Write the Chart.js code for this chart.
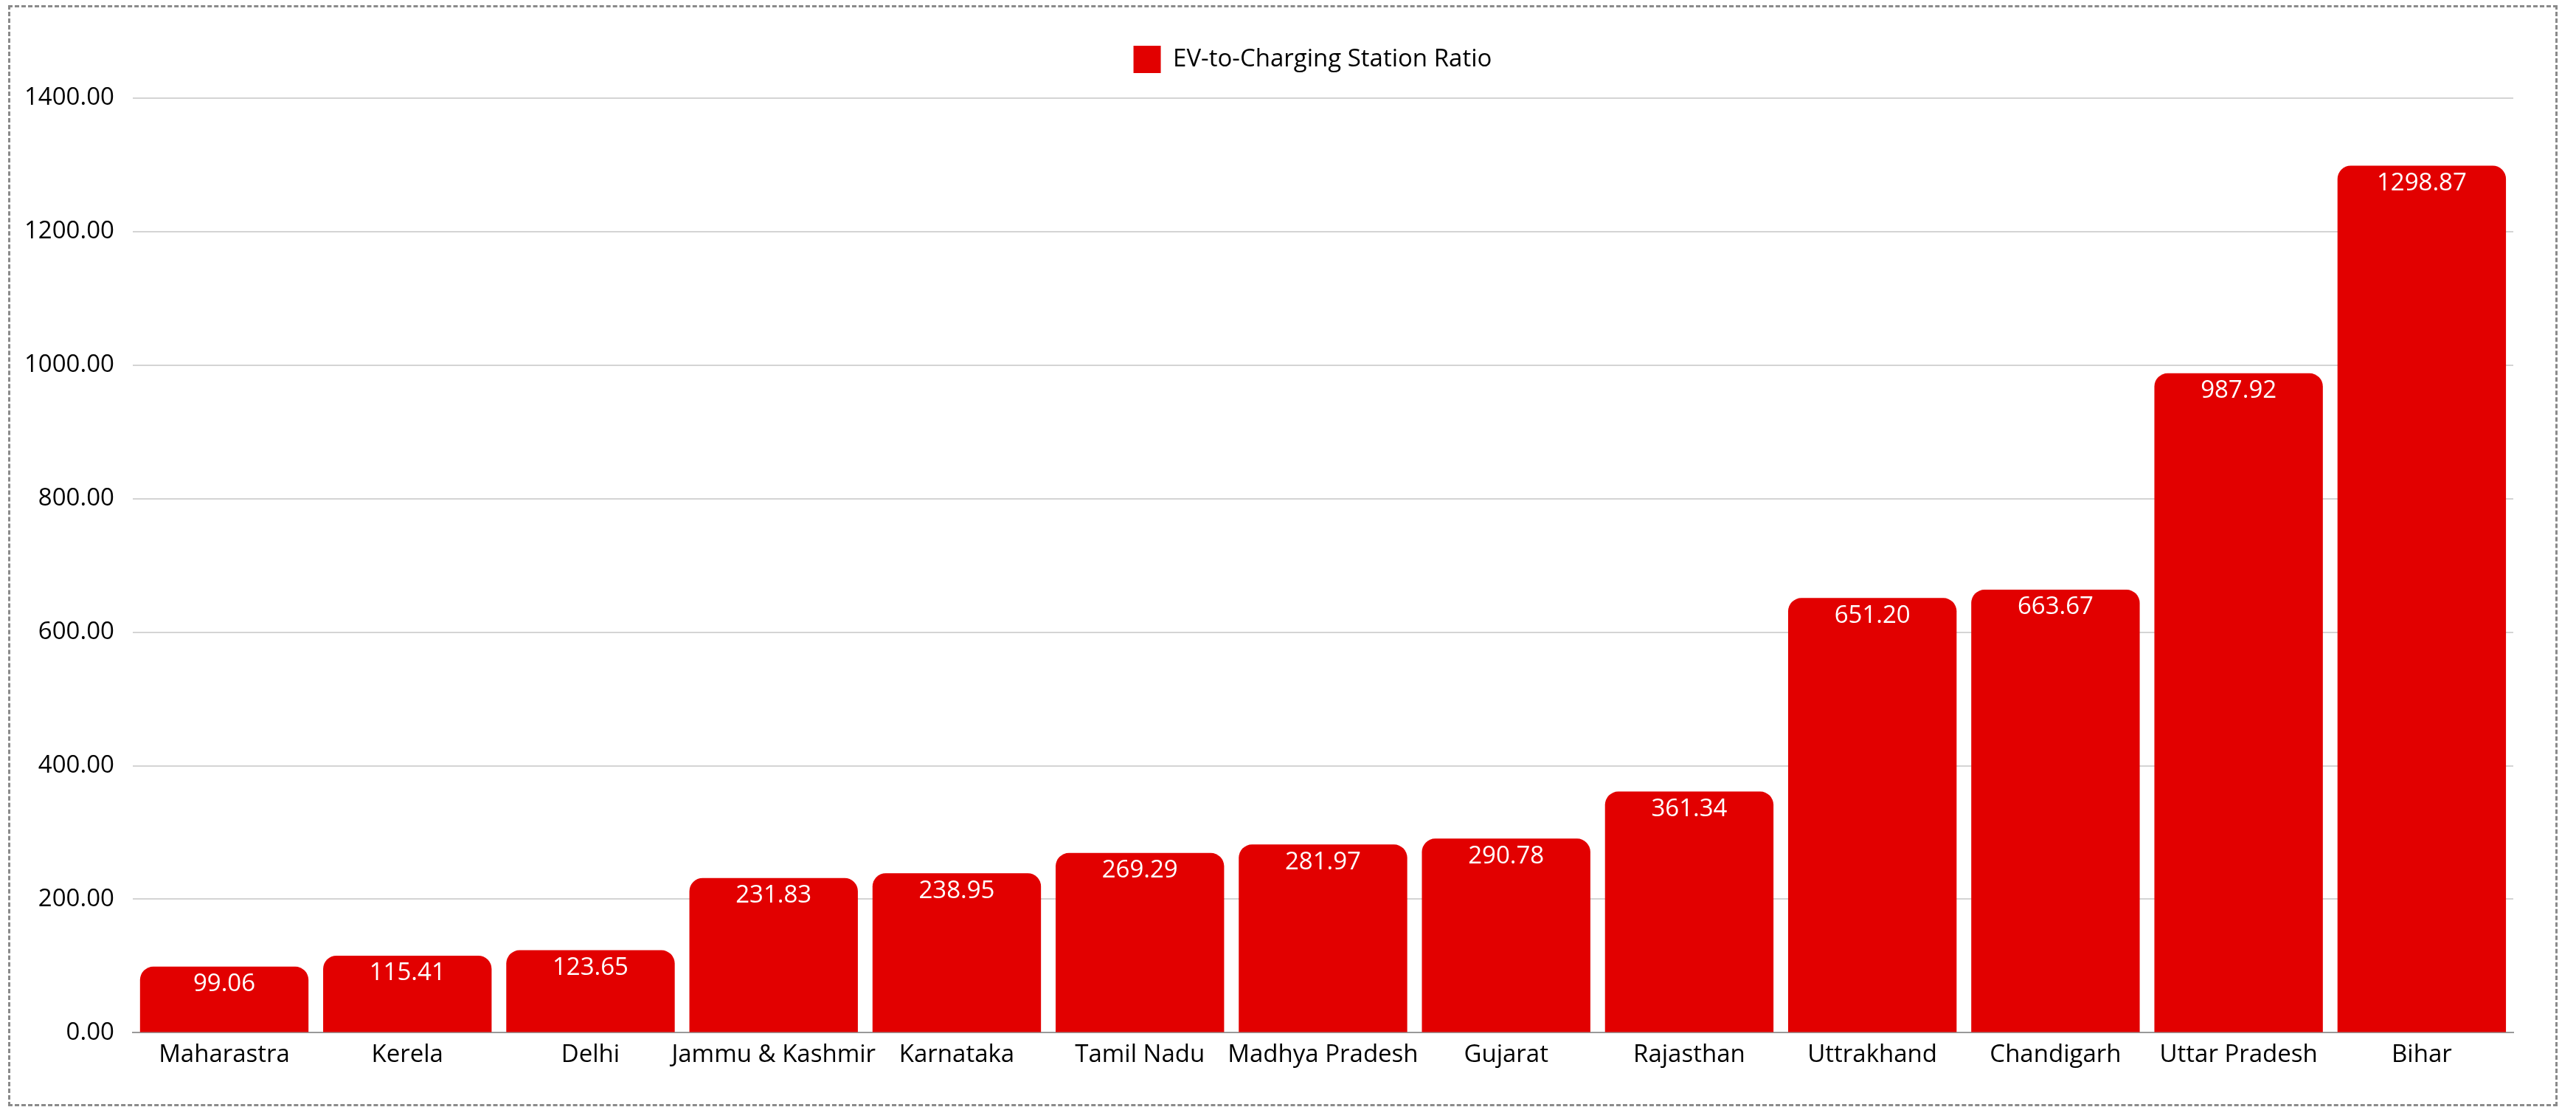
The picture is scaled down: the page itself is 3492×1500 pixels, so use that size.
<!DOCTYPE html>
<html>
<head>
<meta charset="utf-8">
<script src="https://cdn.jsdelivr.net/npm/chart.js@4.4.1/dist/chart.umd.min.js"></script>
<style>
    html, body { margin: 0; padding: 0; background: #fff; }
    #wrap { position: relative; width: 3492px; height: 1500px; }
    #frame {
        position: absolute; left: 11px; top: 7px; width: 3450px; height: 1486px;
        border: 3px dashed #8a8a8a; pointer-events: none;
    }
    canvas { position: absolute; left: 0; top: 0; }
</style>
</head>
<body>
<div id="wrap">
    <canvas id="ratioChart" width="3492" height="1500"></canvas>
    <div id="frame"></div>
</div>
<script>
// chart data
const states = ['Maharastra', 'Kerela', 'Delhi', 'Jammu & Kashmir', 'Karnataka', 'Tamil Nadu',
    'Madhya Pradesh', 'Gujarat', 'Rajasthan', 'Uttrakhand', 'Chandigarh', 'Uttar Pradesh', 'Bihar'];
const ratios = [99.06, 115.41, 123.65, 231.83, 238.95, 269.29, 281.97, 290.78, 361.34, 651.20, 663.67, 987.92, 1298.87];
const seriesLabel = 'EV-to-Charging Station Ratio';
const yTicks = [0, 200, 400, 600, 800, 1000, 1200, 1400];

const barRed = '#e20000';
const fontFamily = '"Open Sans", "Noto Sans", sans-serif';

// white value labels just inside the top of each bar
const valueLabels = {
    id: 'valueLabels',
    afterDatasetsDraw(chart) {
        const ctx = chart.ctx;
        const meta = chart.getDatasetMeta(0);
        ctx.save();
        ctx.fillStyle = '#ffffff';
        ctx.font = '33px ' + fontFamily;
        ctx.textAlign = 'center';
        ctx.textBaseline = 'middle';
        meta.data.forEach((bar, i) => {
            ctx.fillText(ratios[i].toFixed(2), bar.x, bar.y + 24);
        });
        ctx.restore();
    }
};

// extra room under the legend, and centre it over the plot area
const legendSpacer = {
    id: 'legendSpacer',
    beforeInit(chart) {
        const origFit = chart.legend.fit;
        chart.legend.fit = function () {
            origFit.call(this);
            this.height += 24;
        };
    },
    afterLayout(chart) {
        chart.legend.left = chart.chartArea.left - 14;
        chart.legend.right = chart.chartArea.right - 14;
    }
};

Chart.defaults.font.family = fontFamily;
Chart.defaults.font.size = 33;
Chart.defaults.color = '#000';

const ctx = document.getElementById('ratioChart').getContext('2d');
new Chart(ctx, {
    type: 'bar',
    data: {
        labels: states,
        datasets: [{
            label: seriesLabel,
            data: ratios,
            backgroundColor: barRed,
            borderRadius: 18,
            borderSkipped: 'bottom',
            barPercentage: 0.92,
            categoryPercentage: 1.0
        }]
    },
    options: {
        responsive: false,
        animation: false,
        devicePixelRatio: 1,
        layout: { padding: { left: 8, right: 85, top: 26, bottom: 49 } },
        plugins: {
            legend: {
                position: 'top',
                labels: {
                    boxWidth: 37,
                    boxHeight: 37,
                    padding: 36,
                    color: '#000',
                    font: { size: 33 }
                }
            },
            tooltip: { enabled: false }
        },
        scales: {
            x: {
                grid: { display: false },
                border: { display: true, color: '#999', width: 2 },
                ticks: { padding: 2, maxRotation: 0, autoSkip: false, color: '#000' }
            },
            y: {
                min: 0,
                max: 1400,
                afterBuildTicks: axis => { axis.ticks = yTicks.map(v => ({ value: v })); },
                grid: { color: '#d4d4d4', lineWidth: 2, drawTicks: false },
                border: { display: false },
                ticks: {
                    padding: 25,
                    color: '#000',
                    callback: v => Number(v).toFixed(2)
                }
            }
        }
    },
    plugins: [valueLabels, legendSpacer]
});
</script>
</body>
</html>
